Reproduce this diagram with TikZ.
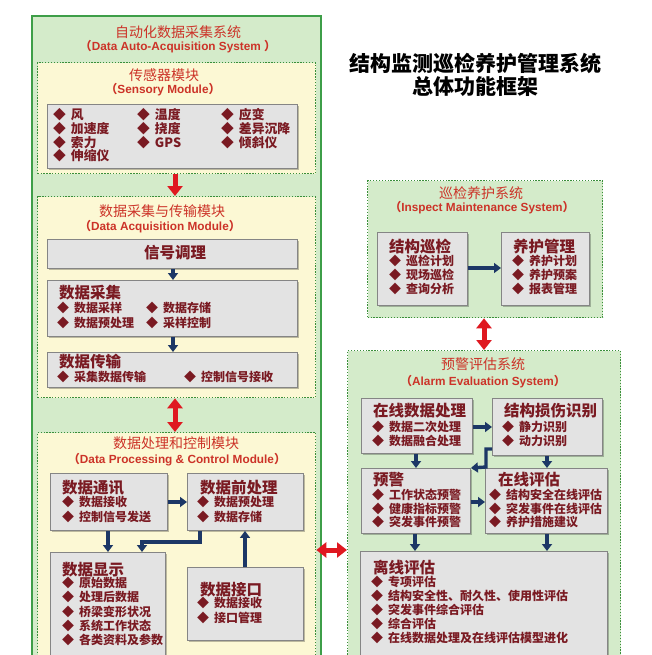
\documentclass[tikz,border=0pt]{standalone}
\usepackage{fontspec}
\setmainfont{Liberation Sans}
\newfontfamily\cjk{Noto Sans CJK SC}
\usetikzlibrary{arrows.meta,shadows}
\definecolor{lgreen}{HTML}{D4EBCA}
\definecolor{outergreen}{HTML}{3E9E48}
\definecolor{dotgreen}{HTML}{3A8F3A}
\definecolor{lyellow}{HTML}{FCF8D4}
\definecolor{gfill}{HTML}{E3E3E3}
\definecolor{gborder}{HTML}{858585}
\definecolor{tred}{HTML}{CC3328}
\definecolor{ired}{HTML}{7A1A22}
\definecolor{navy}{HTML}{1C3766}
\definecolor{rred}{HTML}{DF1820}
\newcommand\dm{◆\hspace{5pt}}
\begin{document}
\begin{tikzpicture}[x=1pt,y=-1pt,
  outerbox/.style={draw=outergreen,line width=1.6pt,fill=lgreen,anchor=north west,inner sep=0},
  modbox/.style={draw=dotgreen,line width=1.3pt,dash pattern=on 1.3pt off 1.6pt,anchor=north west,inner sep=0},
  gbox/.style={draw=gborder,line width=0.9pt,fill=gfill,anchor=north west,inner sep=0,
    drop shadow={shadow xshift=1.5pt,shadow yshift=-1.5pt,fill=black,opacity=0.25}},
  ttl/.style={text=tred,font=\cjk\fontsize{14}{16}\selectfont,inner sep=0},
  eng/.style={text=tred,font=\bfseries\fontsize{11.8}{13}\selectfont,inner sep=0},
  hdr/.style={text=ired,font=\cjk\bfseries\fontsize{15.5}{17}\selectfont,anchor=west,inner sep=0},
  itm/.style={text=ired,font=\cjk\bfseries\fontsize{12}{#1}\selectfont,align=left,anchor=north west,inner sep=0},
  itm/.default=14,
  sitm/.style={text=ired,font=\cjk\bfseries\fontsize{12.8}{13.7}\selectfont,align=left,anchor=north west,inner sep=0},
  mtitle/.style={text=black,font=\cjk\bfseries\fontsize{21}{25}\selectfont,inner sep=0},
  barr/.style={draw=navy,line width=3.4pt,-{Triangle[width=10pt,length=7pt]}},
  rarr/.style={draw=rred,line width=5pt,{Triangle[width=15pt,length=10pt]}-{Triangle[width=15pt,length=10pt]}},
  rarrone/.style={draw=rred,line width=5pt,-{Triangle[width=15pt,length=10pt]}}
]
\clip (0,0) rectangle (651,655);
\fill[white] (0,0) rectangle (651,655);

% ---------- left system ----------
\node[outerbox,minimum width=289,minimum height=660] (sys1) at (31,15) {};
\node[ttl] (t1) at (178,32) {自动化数据采集系统};
\node[eng] (e1) at (178,47) {{\cjk （}Data Auto-Acquisition System {\cjk ）}};

% sensor module
\node[modbox,fill=lyellow,minimum width=278,minimum height=111] (sensmod) at (37,62) {};
\node[ttl] (t2) at (164,75) {传感器模块};
\node[eng] (e2) at (163,90) {{\cjk （}Sensory Module{\cjk ）}};
\node[gbox,minimum width=250,minimum height=64] (sens) at (47,104) {};
\node[sitm] (s1) at (53,108.5) {\dm 风\\\dm 加速度\\\dm 索力\\\dm 伸缩仪};
\node[sitm] (s2) at (137,108.5) {\dm 温度\\\dm 挠度\\\dm GPS};
\node[sitm] (s3) at (221,108.5) {\dm 应变\\\dm 差异沉降\\\dm 倾斜仪};

% data acquisition module
\node[modbox,fill=lyellow,minimum width=278,minimum height=201] (acqmod) at (37,196) {};
\node[ttl] (t3) at (162,211) {数据采集与传输模块};
\node[eng] (e3) at (160,227) {{\cjk （}Data Acquisition Module{\cjk ）}};
\node[gbox,minimum width=250,minimum height=29] (sig) at (47,239) {};
\node[hdr,anchor=center] (sigt) at (175,253) {信号调理};
\node[gbox,minimum width=250,minimum height=56] (acq) at (47,280) {};
\node[hdr] (acqh) at (59,293) {数据采集};
\node[itm=15] (a1) at (57,302) {\dm 数据采样\\\dm 数据预处理};
\node[itm=15] (a2) at (146,302) {\dm 数据存储\\\dm 采样控制};
\node[gbox,minimum width=250,minimum height=35] (trans) at (47,352) {};
\node[hdr] (transh) at (59,362) {数据传输};
\node[itm] (tr1) at (57,371) {\dm 采集数据传输};
\node[itm] (tr2) at (184,371) {\dm 控制信号接收};

% data processing module
\node[modbox,fill=lyellow,minimum width=278,minimum height=240] (procmod) at (37,432) {};
\node[ttl] (t4) at (176,443) {数据处理和控制模块};
\node[eng] (e4) at (177,460) {{\cjk （}Data Processing \& Control Module{\cjk ）}};
\node[gbox,minimum width=117,minimum height=57] (comm) at (50,473) {};
\node[hdr] (commh) at (62,488) {数据通讯};
\node[itm=15] (c1) at (62,496) {\dm 数据接收\\\dm 控制信号发送};
\node[gbox,minimum width=116,minimum height=57] (pre) at (187,473) {};
\node[hdr] (preh) at (200,488) {数据前处理};
\node[itm=15] (p1) at (197,496) {\dm 数据预处理\\\dm 数据存储};
\node[gbox,minimum width=115,minimum height=120] (disp) at (50,552) {};
\node[hdr] (disph) at (62,570) {数据显示};
\node[itm=14.3] (d1) at (62,577) {\dm 原始数据\\\dm 处理后数据\\\dm 桥梁变形状况\\\dm 系统工作状态\\\dm 各类资料及参数};
\node[gbox,minimum width=116,minimum height=73] (intf) at (187,567) {};
\node[hdr] (intfh) at (200,590) {数据接口};
\node[itm=15] (i1) at (197,597) {\dm 数据接收\\\dm 接口管理};

% ---------- right side ----------
\node[mtitle] (mt1) at (475,63) {结构监测巡检养护管理系统};
\node[mtitle] (mt2) at (475,87) {总体功能框架};

\node[modbox,fill=lgreen,minimum width=235,minimum height=137] (inspsys) at (367,180) {};
\node[ttl] (t5) at (481,193) {巡检养护系统};
\node[eng] (e5) at (482,208) {{\cjk （}Inspect Maintenance System{\cjk ）}};
\node[gbox,minimum width=90,minimum height=73] (patrol) at (377,232) {};
\node[hdr] (patrolh) at (389,247) {结构巡检};
\node[itm=14] (pa1) at (389,255) {\dm 巡检计划\\\dm 现场巡检\\\dm 查询分析};
\node[gbox,minimum width=88,minimum height=73] (maint) at (501,232) {};
\node[hdr] (mainth) at (513,247) {养护管理};
\node[itm=14] (m1) at (512,255) {\dm 养护计划\\\dm 养护预案\\\dm 报表管理};

\node[modbox,fill=lgreen,minimum width=273,minimum height=320] (alarmsys) at (347,350) {};
\node[ttl] (t6) at (483,364) {预警评估系统};
\node[eng] (e6) at (483,382) {{\cjk （}Alarm Evaluation System{\cjk ）}};
\node[gbox,minimum width=111,minimum height=55] (onproc) at (361,398) {};
\node[hdr] (onproch) at (373,411) {在线数据处理};
\node[itm=13.5] (o1) at (372,421) {\dm 数据二次处理\\\dm 数据融合处理};
\node[gbox,minimum width=110,minimum height=57] (damage) at (492,398) {};
\node[hdr] (damageh) at (504,411) {结构损伤识别};
\node[itm=13.5] (dm1) at (502,421) {\dm 静力识别\\\dm 动力识别};
\node[gbox,minimum width=109,minimum height=65] (warn) at (361,468) {};
\node[hdr] (warnh) at (373,480) {预警};
\node[itm=13.5] (w1) at (372,489) {\dm 工作状态预警\\\dm 健康指标预警\\\dm 突发事件预警};
\node[gbox,minimum width=122,minimum height=65] (evalon) at (485,468) {};
\node[hdr] (evalonh) at (498,480) {在线评估};
\node[itm=13.5] (ev1) at (489,489) {\dm 结构安全在线评估\\\dm 突发事件在线评估\\\dm 养护措施建议};
\node[gbox,minimum width=247,minimum height=120] (offline) at (360,551) {};
\node[hdr] (offlineh) at (373,568) {离线评估};
\node[itm=14] (of1) at (371,576) {\dm 专项评估\\\dm 结构安全性、耐久性、使用性评估\\\dm 突发事件综合评估\\\dm 综合评估\\\dm 在线数据处理及在线评估模型进化};

% ---------- connectors ----------
\draw[rarrone] (sensmod.south -| 175,0) -- (acqmod.north -| 175,0);
\draw[rarr] (acqmod.south -| 175,0) -- (procmod.north -| 175,0);
\draw[rarr] (procmod.east |- 0,550) -- (alarmsys.west |- 0,550);
\draw[rarr] (inspsys.south -| 484,0) -- (alarmsys.north -| 484,0);

\draw[barr] (sig.south -| 173,0) -- (acq.north -| 173,0);
\draw[barr] (acq.south -| 173,0) -- (trans.north -| 173,0);
\draw[barr] (comm.east |- 0,502) -- (pre.west |- 0,502);
\draw[barr] (comm.south -| 108,0) -- (disp.north -| 108,0);
\draw[barr] (pre.south -| 200,0) |- (142,542) -- (disp.north -| 142,0);
\draw[barr] (intf.north -| 245,0) -- (pre.south -| 245,0);

\draw[barr] (patrol.east |- 0,268) -- (maint.west |- 0,268);

\draw[barr] (onproc.east |- 0,427) -- (damage.west |- 0,427);
\draw[barr] (onproc.south -| 416,0) -- (warn.north -| 416,0);
\draw[barr] (damage.west |- 0,449) -- (486,449) -- (486,467) -- (warn.north east);
\draw[barr] (damage.south -| 547,0) -- (evalon.north -| 547,0);
\draw[barr] (warn.east |- 0,502) -- (evalon.west |- 0,502);
\draw[barr] (warn.south -| 415,0) -- (offline.north -| 415,0);
\draw[barr] (evalon.south -| 547,0) -- (offline.north -| 547,0);
\end{tikzpicture}
\end{document}
